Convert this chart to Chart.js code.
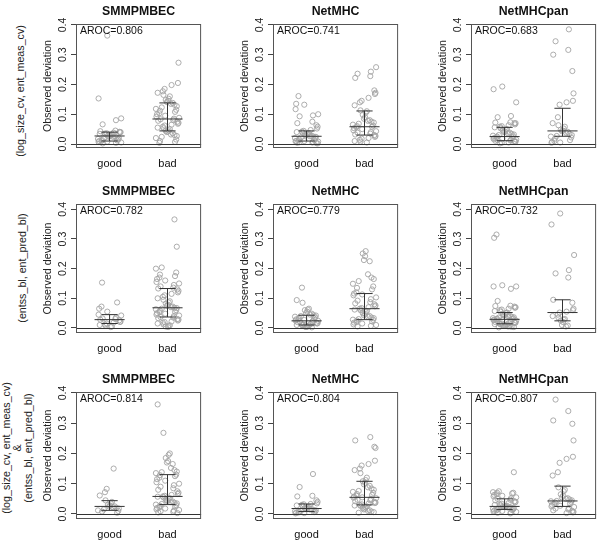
<!DOCTYPE html>
<html>
<head>
<meta charset="utf-8">
<script src="https://cdn.jsdelivr.net/npm/chart.js@4"></script>
<style>
  body { margin: 0; width: 600px; height: 540px; position: relative; background: #fff; overflow: hidden; }
  canvas { position: absolute; }
  .rowlab { position: absolute; white-space: nowrap; text-align: center; font: 10.7px "Liberation Sans", Arial, sans-serif; color: #222; line-height: 11px; transform: translate(-50%, -50%) rotate(-90deg); }
</style>
</head>
<body>
<script>
// ---- data ----
const METHODS = ["SMMPMBEC", "NetMHC", "NetMHCpan"];
const GROUPS = ["good", "bad"];
const Y_TICKS = [0, 0.1, 0.2, 0.3, 0.4];
const ROW_LABELS = ["(log_size_cv, ent_meas_cv)", "(entss_bl, ent_pred_bl)", "(log_size_cv, ent_meas_cv)<br>&amp;<br>(entss_bl, ent_pred_bl)"];
const AROC = [0.806, 0.741, 0.683, 0.782, 0.779, 0.732, 0.814, 0.804, 0.807];

// row 1 : (log_size_cv, ent_meas_cv)
const good_r1_smm = [0.002, 0.004, 0.005, 0.007, 0.008, 0.01, 0.01, 0.012, 0.013, 0.015, 0.017, 0.019, 0.02, 0.022, 0.024, 0.025, 0.027, 0.027, 0.028, 0.03, 0.031, 0.033, 0.034, 0.035, 0.036, 0.038, 0.039, 0.04, 0.041, 0.043, 0.045, 0.066, 0.08, 0.086, 0.153, 0.364];
const bad_r1_smm = [0.004, 0.007, 0.01, 0.015, 0.02, 0.024, 0.027, 0.03, 0.032, 0.036, 0.04, 0.042, 0.044, 0.046, 0.05, 0.053, 0.055, 0.058, 0.062, 0.065, 0.068, 0.071, 0.075, 0.078, 0.08, 0.083, 0.085, 0.088, 0.092, 0.095, 0.1, 0.103, 0.108, 0.112, 0.115, 0.118, 0.123, 0.127, 0.132, 0.135, 0.138, 0.141, 0.145, 0.148, 0.152, 0.16, 0.165, 0.172, 0.177, 0.185, 0.198, 0.205, 0.273];
const good_r1_nm = [0.002, 0.003, 0.004, 0.005, 0.006, 0.007, 0.008, 0.009, 0.01, 0.01, 0.012, 0.014, 0.016, 0.018, 0.02, 0.022, 0.024, 0.025, 0.026, 0.027, 0.029, 0.031, 0.033, 0.035, 0.037, 0.038, 0.04, 0.042, 0.044, 0.047, 0.052, 0.058, 0.063, 0.07, 0.075, 0.093, 0.096, 0.1, 0.117, 0.132, 0.135, 0.161];
const bad_r1_nm = [0.005, 0.008, 0.01, 0.014, 0.018, 0.02, 0.024, 0.027, 0.03, 0.032, 0.035, 0.038, 0.04, 0.043, 0.046, 0.05, 0.053, 0.056, 0.058, 0.06, 0.062, 0.065, 0.068, 0.072, 0.075, 0.078, 0.08, 0.085, 0.09, 0.098, 0.105, 0.11, 0.113, 0.13, 0.14, 0.145, 0.155, 0.168, 0.172, 0.18, 0.222, 0.228, 0.236, 0.243, 0.258];
const good_r1_pan = [0.002, 0.004, 0.005, 0.007, 0.008, 0.01, 0.011, 0.012, 0.013, 0.014, 0.015, 0.017, 0.018, 0.02, 0.022, 0.023, 0.025, 0.026, 0.028, 0.03, 0.032, 0.034, 0.036, 0.038, 0.04, 0.042, 0.045, 0.048, 0.05, 0.053, 0.056, 0.058, 0.06, 0.063, 0.066, 0.07, 0.07, 0.072, 0.073, 0.09, 0.094, 0.14, 0.184, 0.193];
const bad_r1_pan = [0.004, 0.005, 0.007, 0.01, 0.013, 0.018, 0.022, 0.025, 0.027, 0.03, 0.034, 0.038, 0.041, 0.043, 0.045, 0.048, 0.052, 0.058, 0.063, 0.07, 0.09, 0.132, 0.14, 0.145, 0.17, 0.245, 0.3, 0.316, 0.345, 0.385];

// row 2 : (entss_bl, ent_pred_bl)
const good_r2_smm = [0.003, 0.005, 0.008, 0.01, 0.012, 0.015, 0.018, 0.02, 0.022, 0.026, 0.028, 0.03, 0.032, 0.035, 0.042, 0.045, 0.055, 0.065, 0.072, 0.086, 0.153];
const bad_r2_smm = [0.003, 0.005, 0.007, 0.009, 0.012, 0.015, 0.018, 0.02, 0.022, 0.025, 0.028, 0.03, 0.033, 0.035, 0.037, 0.04, 0.042, 0.045, 0.048, 0.05, 0.053, 0.055, 0.058, 0.06, 0.063, 0.065, 0.067, 0.068, 0.07, 0.072, 0.075, 0.078, 0.082, 0.086, 0.09, 0.095, 0.1, 0.105, 0.11, 0.115, 0.12, 0.125, 0.13, 0.133, 0.136, 0.14, 0.145, 0.15, 0.155, 0.16, 0.165, 0.17, 0.175, 0.18, 0.187, 0.2, 0.204, 0.274, 0.366];
const good_r2_nm = [0.002, 0.003, 0.004, 0.005, 0.006, 0.008, 0.009, 0.01, 0.01, 0.011, 0.013, 0.015, 0.016, 0.018, 0.02, 0.021, 0.022, 0.024, 0.024, 0.025, 0.027, 0.029, 0.03, 0.032, 0.034, 0.036, 0.038, 0.04, 0.042, 0.043, 0.045, 0.048, 0.05, 0.055, 0.06, 0.062, 0.065, 0.085, 0.094, 0.136];
const bad_r2_nm = [0.005, 0.007, 0.01, 0.012, 0.015, 0.018, 0.02, 0.022, 0.025, 0.027, 0.028, 0.03, 0.033, 0.035, 0.038, 0.04, 0.043, 0.047, 0.05, 0.053, 0.057, 0.06, 0.062, 0.065, 0.067, 0.07, 0.073, 0.076, 0.08, 0.083, 0.087, 0.092, 0.097, 0.103, 0.11, 0.113, 0.116, 0.12, 0.13, 0.135, 0.14, 0.149, 0.158, 0.165, 0.17, 0.181, 0.225, 0.229, 0.242, 0.251, 0.259];
const good_r2_pan = [0.002, 0.003, 0.004, 0.005, 0.006, 0.007, 0.008, 0.009, 0.01, 0.011, 0.012, 0.013, 0.014, 0.015, 0.016, 0.017, 0.018, 0.019, 0.02, 0.021, 0.022, 0.024, 0.025, 0.026, 0.027, 0.028, 0.029, 0.03, 0.031, 0.032, 0.033, 0.035, 0.036, 0.038, 0.04, 0.041, 0.043, 0.045, 0.047, 0.05, 0.052, 0.055, 0.057, 0.06, 0.062, 0.065, 0.068, 0.07, 0.072, 0.074, 0.075, 0.091, 0.132, 0.14, 0.14, 0.144, 0.304, 0.315];
const bad_r2_pan = [0.005, 0.008, 0.01, 0.02, 0.025, 0.028, 0.03, 0.035, 0.04, 0.045, 0.052, 0.055, 0.06, 0.065, 0.085, 0.095, 0.17, 0.184, 0.195, 0.246, 0.349, 0.386];

// row 3 : both feature sets
const good_r3_smm = [0.004, 0.008, 0.01, 0.012, 0.015, 0.018, 0.02, 0.022, 0.025, 0.025, 0.028, 0.03, 0.035, 0.04, 0.045, 0.061, 0.072, 0.083, 0.15];
const bad_r3_smm = [0.003, 0.005, 0.007, 0.009, 0.011, 0.013, 0.015, 0.018, 0.02, 0.022, 0.025, 0.027, 0.029, 0.031, 0.033, 0.035, 0.037, 0.039, 0.041, 0.043, 0.045, 0.047, 0.05, 0.052, 0.055, 0.057, 0.058, 0.06, 0.063, 0.066, 0.07, 0.075, 0.08, 0.085, 0.09, 0.095, 0.1, 0.105, 0.11, 0.115, 0.12, 0.125, 0.128, 0.13, 0.135, 0.138, 0.14, 0.145, 0.152, 0.165, 0.17, 0.175, 0.185, 0.195, 0.2, 0.268, 0.362];
const good_r3_nm = [0.002, 0.003, 0.004, 0.005, 0.006, 0.007, 0.008, 0.009, 0.01, 0.012, 0.013, 0.015, 0.016, 0.018, 0.018, 0.02, 0.022, 0.024, 0.026, 0.028, 0.03, 0.032, 0.033, 0.035, 0.04, 0.045, 0.058, 0.06, 0.089, 0.132];
const bad_r3_nm = [0.004, 0.006, 0.008, 0.01, 0.012, 0.015, 0.017, 0.02, 0.022, 0.025, 0.027, 0.028, 0.03, 0.032, 0.034, 0.036, 0.038, 0.04, 0.042, 0.045, 0.047, 0.05, 0.052, 0.054, 0.055, 0.057, 0.06, 0.063, 0.066, 0.07, 0.073, 0.076, 0.08, 0.084, 0.088, 0.093, 0.098, 0.103, 0.108, 0.112, 0.12, 0.135, 0.145, 0.15, 0.16, 0.165, 0.176, 0.218, 0.222, 0.243, 0.254];
const good_r3_pan = [0.002, 0.004, 0.005, 0.007, 0.008, 0.01, 0.011, 0.012, 0.013, 0.015, 0.016, 0.017, 0.018, 0.019, 0.02, 0.021, 0.022, 0.023, 0.024, 0.025, 0.026, 0.027, 0.028, 0.03, 0.032, 0.034, 0.036, 0.038, 0.04, 0.042, 0.045, 0.047, 0.05, 0.052, 0.055, 0.058, 0.06, 0.063, 0.065, 0.068, 0.07, 0.07, 0.072, 0.075, 0.138];
const bad_r3_pan = [0.003, 0.005, 0.007, 0.01, 0.012, 0.015, 0.018, 0.02, 0.023, 0.025, 0.027, 0.03, 0.032, 0.035, 0.038, 0.04, 0.042, 0.043, 0.045, 0.048, 0.05, 0.052, 0.055, 0.06, 0.065, 0.075, 0.08, 0.088, 0.127, 0.138, 0.169, 0.182, 0.189, 0.243, 0.298, 0.309, 0.34, 0.378];

// [q1, median, q3] of each group
const goodStats = [[0.01, 0.027, 0.04], [0.01, 0.026, 0.044], [0.011, 0.025, 0.056], [0.015, 0.028, 0.045], [0.01, 0.024, 0.043], [0.014, 0.029, 0.052], [0.012, 0.025, 0.044], [0.008, 0.018, 0.033], [0.015, 0.025, 0.05]];
const badStats = [[0.044, 0.084, 0.138], [0.03, 0.058, 0.111], [0.026, 0.044, 0.12], [0.037, 0.068, 0.133], [0.028, 0.065, 0.116], [0.024, 0.052, 0.095], [0.031, 0.058, 0.13], [0.03, 0.055, 0.108], [0.025, 0.043, 0.092]];

const GOOD = [good_r1_smm, good_r1_nm, good_r1_pan, good_r2_smm, good_r2_nm, good_r2_pan, good_r3_smm, good_r3_nm, good_r3_pan];
const BAD = [bad_r1_smm, bad_r1_nm, bad_r1_pan, bad_r2_smm, bad_r2_nm, bad_r2_pan, bad_r3_smm, bad_r3_nm, bad_r3_pan];

// ---- layout ----
const COL_BOX_LEFT = [76, 273, 471];
const ROW_BOX_TOP = [24, 204, 392];
const ROW_BOX_H = [124, 129, 127];
const ROW_YMIN = [-0.0134, -0.017, -0.0166];
const ROW_YMAX = [0.403, 0.418, 0.403];
const ROW_LAB_POS = [[20, 91], [22, 268], [17, 448]];
const BOX_W = 128, AXIS_W = 50, AXIS_H = 30, TOP_PAD = 26, RIGHT_PAD = 2;
// fixed jitter pattern for the strip points
const JITTER = [-0.12, 0.15, -0.03, 0.19, -0.18, 0.06, -0.08, 0.11, -0.2, 0.02, 0.17, -0.14, 0.09, -0.05, 0.2, -0.1, 0.04, -0.16, 0.13, -0.01, 0.07, -0.19, 0.16, -0.07, 0.1, -0.13, 0.01, 0.18, -0.04, 0.12, -0.17];

const FONT = '"Liberation Sans", Arial, Helvetica, sans-serif';
Chart.defaults.font.family = FONT;
Chart.defaults.color = '#222';

const panelDeco = {
  id: 'panelDeco',
  afterDatasetsDraw(chart, args, opts) {
    const {ctx, chartArea: a, scales: {x, y}} = chart;
    ctx.save();
    ctx.strokeStyle = '#333';
    ctx.lineWidth = 1;
    const seg = (x1, y1, x2, y2) => { ctx.beginPath(); ctx.moveTo(x1, y1); ctx.lineTo(x2, y2); ctx.stroke(); };
    // reference line at zero
    const y0 = Math.round(y.getPixelForValue(0)) + 0.5;
    seg(a.left, y0, a.right, y0);
    // median with interquartile bar
    opts.stats.forEach((s, gi) => {
      const g = gi + 1;
      const xc = x.getPixelForValue(g);
      const pq1 = y.getPixelForValue(s[0]), pm = y.getPixelForValue(s[1]), pq3 = y.getPixelForValue(s[2]);
      seg(xc, pq1, xc, pq3);
      seg(x.getPixelForValue(g - 0.14), pq1, x.getPixelForValue(g + 0.14), pq1);
      seg(x.getPixelForValue(g - 0.14), pq3, x.getPixelForValue(g + 0.14), pq3);
      seg(x.getPixelForValue(g - 0.26), pm, x.getPixelForValue(g + 0.26), pm);
    });
    // frame
    ctx.strokeStyle = '#555';
    ctx.strokeRect(a.left + 0.5, a.top + 0.5, a.width - 1, a.height - 1);
    // panel title
    ctx.fillStyle = '#111';
    ctx.textAlign = 'center';
    ctx.textBaseline = 'alphabetic';
    ctx.font = 'bold 12.3px ' + FONT;
    ctx.fillText(opts.title, (a.left + a.right) / 2, a.top - 9.5);
    // AROC note
    ctx.textAlign = 'left';
    ctx.font = '10.5px ' + FONT;
    ctx.fillText('AROC=' + opts.aroc.toFixed(3), a.left + 4, a.top + 9.5);
    ctx.restore();
  }
};

for (let r = 0; r < 3; r++) {
  const lab = document.createElement('div');
  lab.className = 'rowlab';
  lab.innerHTML = ROW_LABELS[r];
  lab.style.left = ROW_LAB_POS[r][0] + 'px';
  lab.style.top = ROW_LAB_POS[r][1] + 'px';
  document.body.appendChild(lab);

  for (let c = 0; c < 3; c++) {
    const p = r * 3 + c;
    const cv = document.createElement('canvas');
    cv.width = AXIS_W + BOX_W + RIGHT_PAD;
    cv.height = TOP_PAD + ROW_BOX_H[r] + AXIS_H;
    cv.style.left = (COL_BOX_LEFT[c] - AXIS_W) + 'px';
    cv.style.top = (ROW_BOX_TOP[r] - TOP_PAD) + 'px';
    document.body.appendChild(cv);

    const strip = (vals, g, k) => vals.map((v, i) => ({x: g + JITTER[(i * 7 + k) % JITTER.length], y: v}));
    const pointStyle = {
      type: 'scatter',
      pointRadius: 2.6,
      pointBorderWidth: 0.9,
      pointBackgroundColor: 'rgba(0,0,0,0)',
      pointBorderColor: '#a4a4a4'
    };

    new Chart(cv.getContext('2d'), {
      type: 'scatter',
      data: {
        datasets: [
          Object.assign({label: GROUPS[0], data: strip(GOOD[p], 1, p * 3)}, pointStyle),
          Object.assign({label: GROUPS[1], data: strip(BAD[p], 2, p * 5 + 11)}, pointStyle)
        ]
      },
      options: {
        responsive: false,
        animation: false,
        layout: {padding: {top: TOP_PAD, right: RIGHT_PAD, left: 0, bottom: 0}},
        plugins: {
          legend: {display: false},
          tooltip: {enabled: false},
          panelDeco: {title: METHODS[c], aroc: AROC[p], stats: [goodStats[p], badStats[p]]}
        },
        scales: {
          x: {
            type: 'linear',
            min: 0.42,
            max: 2.58,
            afterBuildTicks: (s) => { s.ticks = [{value: 1}, {value: 2}]; },
            afterFit: (s) => { s.height = AXIS_H; },
            ticks: {callback: (v) => GROUPS[v - 1], padding: 1, font: {size: 11}, color: '#111'},
            grid: {display: false},
            border: {display: false}
          },
          y: {
            type: 'linear',
            min: ROW_YMIN[r],
            max: ROW_YMAX[r],
            afterBuildTicks: (s) => { s.ticks = Y_TICKS.map(v => ({value: v})); },
            afterFit: (s) => { s.width = AXIS_W; },
            ticks: {callback: (v) => v.toFixed(1), minRotation: 90, maxRotation: 90, crossAlign: 'center', padding: 0.5, font: {size: 10.7}, color: '#222'},
            grid: {display: true, drawOnChartArea: false, drawTicks: true, tickLength: 5, color: '#444'},
            border: {display: false},
            title: {display: true, text: 'Observed deviation', font: {size: 10.7}, color: '#222', padding: {top: 15.5, bottom: 0}}
          }
        }
      },
      plugins: [panelDeco]
    });
  }
}
</script>
</body>
</html>
